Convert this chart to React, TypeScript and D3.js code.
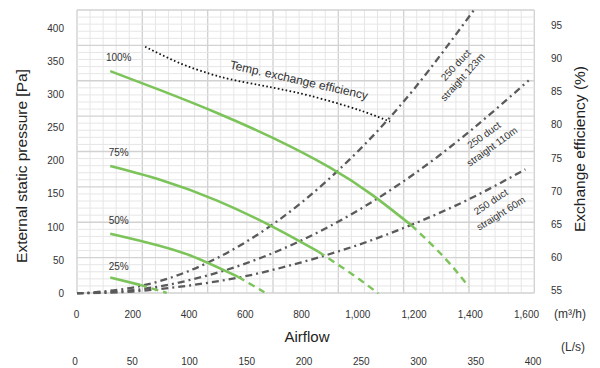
import React from "react";
import * as d3 from "d3";

// ---------- data ----------
const airflowTicks = [0, 200, 400, 600, 800, 1000, 1200, 1400, 1600];
const litreTicks = [0, 50, 100, 150, 200, 250, 300, 350, 400];
const pressureTicks = [0, 50, 100, 150, 200, 250, 300, 350, 400];
const efficiencyTicks = [55, 60, 65, 70, 75, 80, 85, 90, 95];

// fan curves [airflow m3/h, pressure Pa]
const fan100Solid = [[120, 335], [300, 306], [500, 272], [700, 234], [900, 190], [1050, 149], [1190, 103]];
const fan100Dash = [[1190, 103], [1306, 55], [1395, 10]];
const fan75Solid = [[120, 192], [300, 171], [500, 140], [700, 100], [860, 63]];
const fan75Dash = [[860, 63], [984, 28], [1073, 0]];
const fan50Solid = [[120, 90], [250, 77], [400, 58], [575, 25]];
const fan50Dash = [[575, 25], [668, 2]];
const fan25Solid = [[120, 24], [226, 13]];
const fan25Dash = [[226, 13], [321, 1]];

const fanLabels = ["100%", "75%", "50%", "25%"];
const fanLabelValues = [355, 213, 110, 40];

// duct resistance curves [airflow, pressure]
const duct123 = [[0, 0], [200, 9], [400, 34], [600, 77], [800, 137], [1000, 214], [1200, 308], [1413, 427]];
const duct110 = [[0, 0], [200, 5], [400, 20], [600, 45], [800, 80], [1000, 125], [1200, 180], [1400, 245], [1608, 321]];
const duct60 = [[0, 0], [200, 3], [400, 12], [600, 26], [800, 47], [1000, 73], [1200, 105], [1400, 143], [1596, 187]];

// temperature exchange efficiency [airflow, %]
const efficiency = [[244, 91.8], [368, 89.3], [475, 87.7], [546, 86.9], [652, 86.0], [724, 85.4], [830, 84.4], [1008, 82.2], [1115, 80.5]];

const GREEN = "#7cc35a";
const GREY = "#5a5a5a";
const TXT = "#333333";

export default function App() {
  const left = 77, right = 534.3, top = 10, bottom = 293;
  const x = d3.scaleLinear().domain([0, 1600]).range([76.5, 526.5]);
  const xL = d3.scaleLinear().domain([0, 400]).range([75, 533]);
  const yP = d3.scaleLinear().domain([0, 400]).range([293.5, 28]);
  const yE = d3.scaleLinear().domain([55, 95]).range([290.5, 25.5]);

  const gx = d3.scaleLinear().domain([0, 35]).range([left, right]);
  const gy = d3.scaleLinear().domain([0, 40]).range([bottom, top]);

  const lineP = d3.line<number[]>().x(d => x(d[0])).y(d => yP(d[1])).curve(d3.curveNatural);
  const lineE = d3.line<number[]>().x(d => x(d[0])).y(d => yE(d[1])).curve(d3.curveCatmullRom.alpha(0.5));
  const fmt = d3.format(",");

  const greenSolid = [fan100Solid, fan75Solid, fan50Solid, fan25Solid];
  const greenDash = [fan100Dash, fan75Dash, fan50Dash, fan25Dash];
  const ducts = [duct123, duct110, duct60];

  return (
    <svg width={600} height={368} style={{ position: "absolute", left: 0, top: 0, background: "#fff" }}
      fontFamily="'Liberation Sans', Arial, sans-serif">
      <defs>
        <clipPath id="plot">
          <rect x={left} y={top} width={right - left} height={bottom - top + 1.5} />
        </clipPath>
      </defs>
      {/* grid */}
      {d3.range(36).map(i => (
        <line key={"gv" + i} x1={gx(i)} x2={gx(i)} y1={top} y2={bottom}
          stroke={i % 5 === 0 ? "#d2d2d2" : "#e6e6e6"} strokeWidth={i % 5 === 0 ? 1.4 : 1} />
      ))}
      {d3.range(41).map(i => (
        <line key={"gh" + i} x1={left} x2={right} y1={gy(i)} y2={gy(i)}
          stroke={i % 5 === 0 ? "#d2d2d2" : "#e6e6e6"} strokeWidth={i % 5 === 0 ? 1.4 : 1} />
      ))}

      <g clipPath="url(#plot)">
        {ducts.map((d, i) => (
          <path key={"d" + i} d={lineP(d) || ""} fill="none" stroke={GREY} strokeWidth={2.3}
            strokeDasharray="7,4,2,4" />
        ))}
        {greenSolid.map((d, i) => (
          <path key={"gs" + i} d={lineP(d) || ""} fill="none" stroke={GREEN} strokeWidth={2.6} />
        ))}
        {greenDash.map((d, i) => (
          <path key={"gd" + i} d={lineP(d) || ""} fill="none" stroke={GREEN} strokeWidth={2.4}
            strokeDasharray="7,5" />
        ))}
        <path d={lineE(efficiency) || ""} fill="none" stroke="#111" strokeWidth={1.8} strokeDasharray="1.6,2.4" />
      </g>

      {/* fan labels */}
      {fanLabels.map((t, i) => (
        <text key={"fl" + i} x={x(150)} y={yP(fanLabelValues[i])} fontSize={10} fill={TXT}
          textAnchor="middle" dy="0.35em">{t}</text>
      ))}
      <text transform="translate(299,80) rotate(12.8)" fontSize={12} fill={TXT} textAnchor="middle" dy="0.35em">
        Temp. exchange efficiency
      </text>

      {/* duct labels */}
      <g fontSize={10} fill={TXT} textAnchor="middle">
        <text transform="translate(455.8,65) rotate(-47)" dy="0.35em">250 duct</text>
        <text transform="translate(462.5,77) rotate(-48)" dy="0.35em">straight 123m</text>
        <text transform="translate(484,135) rotate(-36)" dy="0.35em">250 duct</text>
        <text transform="translate(492,146.5) rotate(-36)" dy="0.35em">straight 110m</text>
        <text transform="translate(490.8,201.7) rotate(-33.7)" dy="0.35em">250 duct</text>
        <text transform="translate(500.8,213.3) rotate(-32)" dy="0.35em">straight 60m</text>
      </g>

      {/* axes labels */}
      {pressureTicks.map(v => (
        <text key={"p" + v} x={64} y={yP(v)} dy="0.35em" fontSize={10} fill={TXT} textAnchor="end">{v}</text>
      ))}
      {efficiencyTicks.map(v => (
        <text key={"e" + v} x={551} y={yE(v)} dy="0.35em" fontSize={10} fill={TXT} textAnchor="start">{v}</text>
      ))}
      {airflowTicks.map(v => (
        <text key={"a" + v} x={x(v)} y={314} dy="0.35em" fontSize={10} fill={TXT} textAnchor="middle">{fmt(v)}</text>
      ))}
      {litreTicks.map(v => (
        <text key={"l" + v} x={xL(v)} y={361.5} dy="0.35em" fontSize={10} fill={TXT} textAnchor="middle">{v}</text>
      ))}

      <text x={570} y={314} dy="0.35em" fontSize={12} fill={TXT} textAnchor="middle">(m³/h)</text>
      <text x={573} y={347} dy="0.35em" fontSize={12} fill={TXT} textAnchor="middle">(L/s)</text>
      <text x={307} y={337} dy="0.35em" fontSize={15} fill="#222" textAnchor="middle">Airflow</text>
      <text transform="translate(22,166) rotate(-90)" dy="0.35em" fontSize={15.5} fill="#222" textAnchor="middle">
        External static pressure [Pa]
      </text>
      <text transform="translate(580,149) rotate(-90)" dy="0.35em" fontSize={15.5} fill="#222" textAnchor="middle">
        Exchange efficiency (%)
      </text>
    </svg>
  );
}
